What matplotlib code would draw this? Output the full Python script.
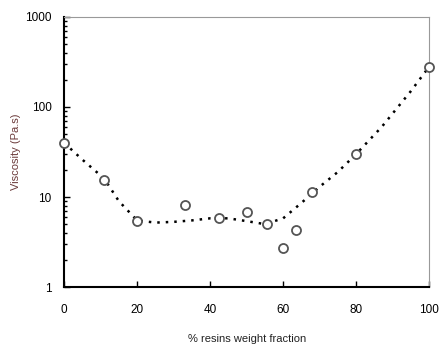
import matplotlib
matplotlib.use("Agg")
import matplotlib.pyplot as plt
from matplotlib.ticker import LogLocator, FixedLocator

plt.rcParams['font.family'] = ['Liberation Sans', 'DejaVu Sans']

# measured points
resin_frac = [0, 11, 20, 33, 42.5, 50, 55.5, 60, 63.5, 68, 80, 100]
viscosity = [40, 15.5, 5.4, 8.1, 5.9, 6.8, 5.0, 2.7, 4.3, 11.5, 30, 280]

# trend line
trend_x = [0, 5, 11, 15, 20, 25, 30, 35, 40, 45, 50, 55, 60, 65, 70, 75, 80, 87, 95, 100]
trend_y = [40, 26, 16, 9, 5.5, 5.2, 5.3, 5.5, 5.8, 5.8, 5.4, 5.0, 5.8, 8.6, 13, 19, 30, 60, 150, 280]

x_ticks = [0, 20, 40, 60, 80, 100]
y_ticks = [1, 10, 100, 1000]

fig = plt.figure(figsize=(4.42, 3.58), dpi=100)
ax = fig.add_axes([0.145, 0.198, 0.826, 0.755])

ax.plot(trend_x, trend_y, color='black', linewidth=1.8, linestyle=(0, (1, 2.4)),
        zorder=2)
ax.plot(resin_frac, viscosity, linestyle='none', marker='o', markersize=6.5,
        markerfacecolor='white', markeredgecolor='#555555', markeredgewidth=1.3,
        zorder=3, clip_on=False)

ax.set_yscale('log')
ax.set_xlim(0, 100)
ax.set_ylim(1, 1000)
ax.xaxis.set_major_locator(FixedLocator(x_ticks))
ax.set_yticks(y_ticks)
ax.set_yticklabels([str(v) for v in y_ticks])
ax.yaxis.set_minor_locator(LogLocator(base=10, subs=range(2, 10)))

ax.tick_params(axis='both', which='major', direction='in', length=4, width=1,
               labelsize=8.5, top=False, right=False)
ax.tick_params(axis='x', which='major', pad=12)
ax.tick_params(axis='y', which='major', pad=9)
ax.tick_params(axis='y', which='minor', direction='in', length=2.5, width=1,
               right=False, labelleft=False)
ax.tick_params(axis='x', which='minor', bottom=False, top=False)

for side in ['left', 'bottom']:
    ax.spines[side].set_linewidth(1.5)
    ax.spines[side].set_color('black')
for side in ['top', 'right']:
    ax.spines[side].set_linewidth(0.8)
    ax.spines[side].set_color('#999999')

ax.set_xlabel('% resins weight fraction', fontsize=8, color='#222222', labelpad=13)
ax.set_ylabel('Viscosity (Pa.s)', fontsize=8, color='#6b3a3a', labelpad=3)

fig.savefig('out.png', dpi=100)
